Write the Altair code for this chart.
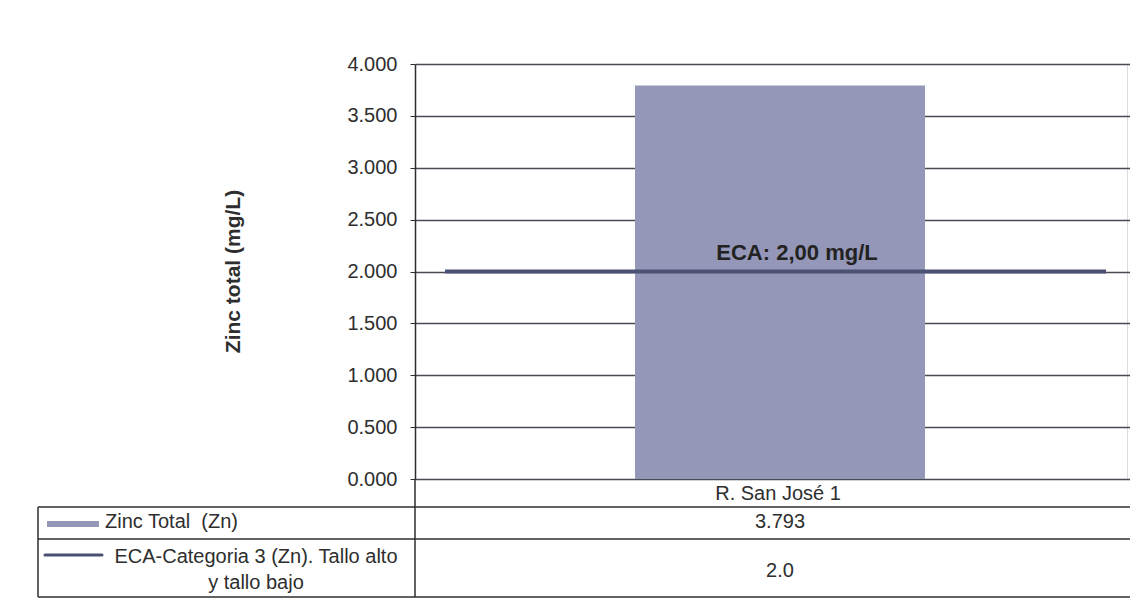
import altair as alt
import pandas as pd

categories = ["R. San José 1"]
zinc_total = [3.793]
eca_limit = [2.0]
series_names = ["Zinc Total \u00a0(Zn)", "ECA-Categoria 3 (Zn). Tallo alto\ny tallo bajo"]
y_ticks = [0.0, 0.5, 1.0, 1.5, 2.0, 2.5, 3.0, 3.5, 4.0]
y_title = "Zinc total (mg/L)"
eca_label = "ECA: " + f"{eca_limit[0]:.2f}".replace(".", ",") + " mg/L"

BAR = "#9497b7"
LINE = "#4a5173"
INK = "#2e2e2e"
GRID = "#4a4a55"
FONT = "Liberation Sans"

df = pd.DataFrame({"cat": categories, "zn": zinc_total, "eca": eca_limit})
leg = pd.DataFrame({"name": series_names})

W, H = 712, 415

xenc = alt.X("cat:N", axis=None,
             scale=alt.Scale(paddingInner=0, paddingOuter=0, range=[0, 730]))
yscale = alt.Scale(domain=[0, 4], nice=False)

base = alt.Chart(df)

bars = base.mark_bar(size=290, color=BAR).encode(
    x=xenc,
    y=alt.Y(
        "zn:Q",
        scale=yscale,
        axis=alt.Axis(
            values=y_ticks,
            format=".3f",
            title=y_title,
            titleFontSize=21,
            titleFontWeight="bold",
            titleColor=INK,
            titleX=-182,
            titleY=207,
            titleAlign="center",
            titleBaseline="middle",
            titleAngle=270,
            labelFontSize=20,
            labelColor=INK,
            labelPadding=13,
            tickSize=5,
            tickColor=INK,
            domainColor=INK,
            domainWidth=1.5,
            grid=True,
            gridColor=GRID,
            gridWidth=1.3,
        ),
    ),
)

eca_line = base.mark_rule(strokeWidth=4, color=LINE).encode(
    y=alt.Y("eca:Q", scale=yscale), x=alt.value(30), x2=alt.value(691)
)

eca_text = base.mark_text(
    dx=17, dy=-7, baseline="bottom", fontSize=22, fontWeight="bold", color="#222222", font=FONT
).encode(x=xenc, y=alt.Y("eca:Q", scale=yscale), text=alt.value(eca_label))

# data table text
t_cat = base.mark_text(fontSize=20, color=INK, font=FONT, baseline="middle", dx=-2).encode(
    x=xenc, y=alt.value(430), text="cat:N"
)
t_zn = base.mark_text(fontSize=20, color=INK, font=FONT, baseline="middle").encode(
    x=xenc, y=alt.value(458), text=alt.Text("zn:Q", format=".3f")
)
t_eca = base.mark_text(fontSize=20, color=INK, font=FONT, baseline="middle").encode(
    x=xenc, y=alt.value(507), text=alt.Text("eca:Q", format=".1f")
)

# table legend
leg_zn = alt.Chart(leg).transform_filter(alt.datum.name == series_names[0]).mark_text(
    fontSize=20, color=INK, font=FONT, align="left", baseline="middle"
).encode(x=alt.value(-310), y=alt.value(458), text="name:N")
leg_eca = alt.Chart(leg).transform_filter(alt.datum.name == series_names[1]).mark_text(
    fontSize=20, color=INK, font=FONT, align="center", baseline="middle", lineBreak="\n", lineHeight=26
).encode(x=alt.value(-159), y=alt.value(493), text="name:N")

sw_bar = base.mark_rect(color=BAR).encode(
    x=alt.value(-368), x2=alt.value(-316), y=alt.value(457), y2=alt.value(463)
)
sw_line = base.mark_rule(color=LINE, strokeWidth=3, strokeCap="round").encode(
    x=alt.value(-370), x2=alt.value(-313), y=alt.value(491)
)

# table frame
def hline(y, x0, x1):
    return base.mark_rule(color=INK, strokeWidth=1.5).encode(
        x=alt.value(x0), x2=alt.value(x1), y=alt.value(y)
    )

def vline(x, y0, y1):
    return base.mark_rule(color=INK, strokeWidth=1.5).encode(
        x=alt.value(x), y=alt.value(y0), y2=alt.value(y1)
    )

frame = [
    hline(443, -377, 730),
    hline(475, -377, 730),
    hline(533, -377, 730),
    vline(-377, 443, 533),
    vline(0, 415, 533),
]

chart = alt.layer(
    bars, eca_line, eca_text, t_cat, t_zn, t_eca, leg_zn, leg_eca, sw_bar, sw_line, *frame
).properties(
    width=W,
    height=H,
    autosize=alt.AutoSizeParams(type="none"),
    padding={"left": 407, "top": 56, "right": 3, "bottom": 125},
).configure_view(strokeWidth=0).configure(font=FONT)

chart.save("out.html", embed_options={"renderer": "svg", "actions": False})
